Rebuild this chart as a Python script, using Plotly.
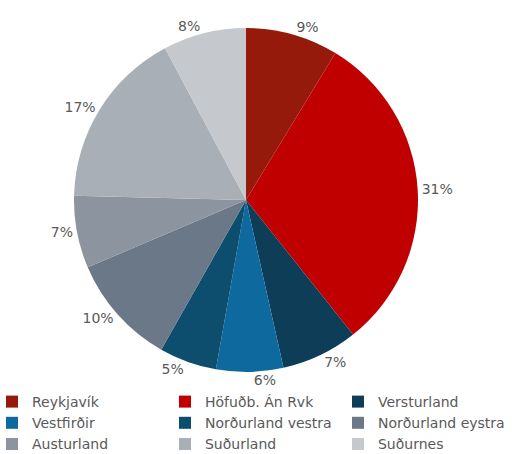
import plotly.graph_objects as go

regions = ["Reykjavík", "Höfuðb. Án Rvk", "Versturland", "Vestfirðir",
           "Norðurland vestra", "Norðurland eystra", "Austurland",
           "Suðurland", "Suðurnes"]
shares = [8.7, 30.6, 7.2, 6.3, 5.4, 10.4, 6.8, 16.8, 7.8]
colors = ["#961A0C", "#C00000", "#0E3D57", "#0E6A9E", "#0D4D6E",
          "#6B7888", "#8C959F", "#A9AFB6", "#C5C9CD"]

fig = go.Figure(go.Pie(
    labels=regions, values=shares, sort=False, direction="clockwise",
    rotation=0, marker=dict(colors=colors, line=dict(width=0)),
    textinfo="percent", texttemplate="%{percent:.0%}",
    textposition="outside",
    outsidetextfont=dict(size=14, color="#595959", family="DejaVu Sans"),
    domain=dict(x=[0, 0.9516], y=[0.0363, 0.9275]),
))
fig.update_layout(
    width=517, height=454,
    margin=dict(l=0, r=0, t=0, b=68, autoexpand=False),
    paper_bgcolor="white",
    font=dict(family="DejaVu Sans", color="#595959"),
    showlegend=True,
    legend=dict(orientation="h", x=-0.0155, y=0, xanchor="left", yanchor="top",
                entrywidth=128, entrywidthmode="pixels",
                font=dict(size=14, color="#595959", family="DejaVu Sans"),
                tracegroupgap=0, itemwidth=30),
)
fig.write_html("out.html")
